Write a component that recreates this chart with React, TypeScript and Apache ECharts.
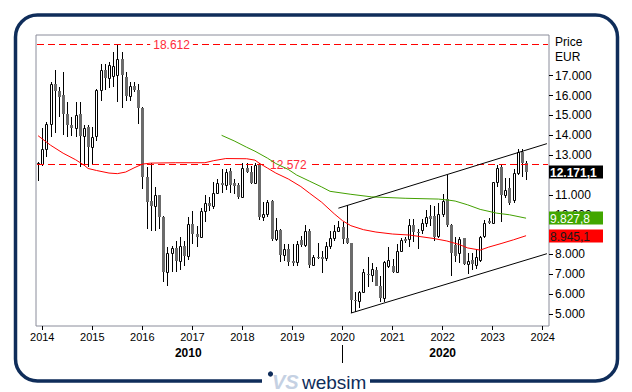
import React, { useEffect, useRef } from 'react';
import * as echarts from 'echarts';

// ---------- categories (monthly, Dec 2013 .. Feb 2024) ----------
const START_YEAR = 2013;
const START_MONTH = 12;
const N_CATS = 123;
const categories: string[] = [];
for (let i = 0; i < N_CATS; i++) {
  const m = START_MONTH - 1 + i;
  const y = START_YEAR + Math.floor(m / 12);
  const mm = (m % 12) + 1;
  categories.push(`${y}-${String(mm).padStart(2, '0')}`);
}

// ---------- monthly OHLC (thousand EUR), Dec 2013 .. Sep 2023 ----------
const open = [
  12.55, 12.55, 13.3, 14.55, 16.6, 16.25, 16.05, 15.05, 14.5, 14.35, 15.05, 13.95, 14.4, 13.4, 13.95, 16.3, 17.3, 16.9, 17.0, 17.03,
  17.84, 16.95, 16.0, 16.5, 16.3, 15.4, 11.9, 10.7, 10.45, 11.0, 9.9, 7.1, 8.05, 8.35, 7.65, 8.45, 7.9, 9.55, 9.05, 8.9,
  10.2, 10.6, 10.45, 11.1, 11.6, 11.5, 12.2, 11.6, 11.5, 10.9, 12.35, 12.15, 11.6, 12.5, 9.9, 10.05, 10.7, 8.8, 9.25, 7.95,
  8.3, 7.65, 7.6, 8.75, 8.5, 9.2, 7.45, 7.85, 7.85, 7.8, 8.45, 8.85, 9.2, 9.4, 8.85, 8.6, 5.7, 5.65, 6.1, 7.0,
  6.95, 7.2, 6.4, 5.8, 7.4, 7.4, 7.1, 8.2, 8.8, 8.8, 9.5, 9.15, 9.25, 9.6, 9.95, 9.95, 8.95, 10.05, 10.8, 9.5,
  8.5, 8.05, 8.85, 7.5, 7.7, 7.45, 7.7, 8.95, 9.7, 9.6, 11.65, 12.4, 11.0, 11.35, 10.75, 12.1, 13.15, 12.6,
];
const close = [
  12.6, 13.3, 14.55, 16.6, 16.25, 15.95, 15.05, 14.5, 14.35, 15.0, 13.95, 14.35, 13.4, 13.9, 16.3, 17.3, 16.9, 17.55, 17.5, 17.84,
  17.03, 16.0, 16.5, 16.3, 15.4, 11.9, 10.65, 10.45, 11.0, 9.9, 7.1, 8.05, 8.35, 7.65, 8.45, 7.9, 9.55, 9.05, 8.9, 10.2,
  10.6, 10.45, 11.1, 11.6, 11.5, 12.15, 11.5, 11.45, 10.9, 12.35, 12.15, 11.6, 12.5, 9.9, 10.05, 10.65, 8.8, 9.25, 7.95, 8.3,
  7.6, 7.55, 8.55, 8.5, 9.2, 7.45, 7.85, 7.8, 7.78, 8.45, 8.85, 9.2, 9.4, 8.8, 8.6, 5.7, 5.65, 6.1, 7.1, 6.95,
  7.25, 6.4, 5.8, 7.6, 7.7, 7.1, 8.2, 8.75, 8.7, 9.5, 9.15, 9.1, 9.6, 9.9, 9.8, 8.9, 10.05, 10.7, 9.5, 8.1,
  7.9, 8.8, 7.5, 7.65, 7.5, 7.85, 8.9, 9.6, 9.6, 11.65, 12.35, 11.0, 11.25, 10.6, 12.1, 13.15, 12.6, 12.1711,
];
const low = [
  11.7, 12.45, 12.9, 13.9, 14.1, 14.9, 14.0, 13.9, 13.95, 13.9, 12.4, 12.45, 12.4, 12.5, 13.7, 15.75, 16.3, 16.4, 16.45, 15.7,
  15.4, 15.75, 15.75, 16.2, 14.55, 11.3, 9.3, 9.2, 9.2, 9.3, 6.6, 6.4, 7.1, 7.1, 7.2, 7.4, 7.7, 8.55, 8.4, 8.85,
  9.65, 10.2, 10.3, 11.05, 11.1, 11.25, 11.1, 11.05, 10.8, 10.9, 12.1, 11.55, 11.6, 9.75, 9.7, 9.9, 8.7, 8.7, 7.6, 7.65,
  7.4, 7.4, 7.4, 8.4, 8.4, 7.3, 7.4, 7.75, 7.05, 7.65, 8.3, 8.7, 9.15, 8.55, 8.55, 5.05, 5.1, 5.3, 6.05, 6.35,
  6.6, 6.4, 5.6, 5.6, 7.3, 7.05, 7.05, 8.15, 8.6, 8.4, 8.65, 8.3, 9.05, 9.4, 9.45, 8.7, 8.85, 9.9, 9.4, 6.9,
  7.6, 7.55, 7.45, 7.0, 7.2, 7.25, 7.6, 8.85, 9.55, 9.55, 11.4, 9.65, 10.85, 10.5, 10.6, 12.0, 11.9, 11.75,
];
const high = [
  12.65, 14.35, 14.65, 16.7, 17.3, 16.45, 17.2, 15.7, 14.9, 15.7, 15.7, 14.5, 14.5, 14.4, 16.35, 17.6, 17.6, 17.7, 18.2, 18.612,
  18.2, 17.2, 16.7, 16.7, 16.6, 15.45, 12.4, 12.6, 11.4, 11.0, 9.95, 8.4, 8.45, 8.7, 8.9, 8.7, 9.9, 10.2, 9.45, 10.35,
  11.0, 10.9, 11.65, 11.8, 12.3, 12.3, 12.35, 11.8, 11.6, 12.6, 12.6, 12.45, 12.6, 12.6, 10.65, 10.75, 10.75, 9.85, 9.3, 8.55,
  8.55, 8.55, 8.7, 8.95, 9.5, 9.3, 7.95, 8.6, 8.2, 8.65, 9.2, 9.5, 9.7, 9.65, 10.5, 8.6, 6.1, 6.15, 7.25, 7.85,
  7.55, 7.35, 6.9, 7.65, 8.4, 7.75, 8.55, 8.85, 8.9, 9.8, 9.8, 9.3, 9.8, 10.25, 10.5, 10.45, 10.6, 11.05, 12.0, 9.55,
  8.9, 8.9, 8.85, 8.05, 8.05, 8.3, 8.95, 9.75, 9.85, 11.65, 12.5, 12.5, 11.85, 11.85, 12.3, 13.3, 13.3, 12.7,
];

// ---------- moving averages (sampled points) ----------
const redMA: [string, number][] = [
  ['2013-12', 13.98], ['2014-03', 13.5], ['2014-06', 13.1], ['2014-09', 12.77], ['2014-11', 12.5], ['2014-12', 12.33],
  ['2015-02', 12.23], ['2015-05', 12.1], ['2015-07', 12.07], ['2015-09', 12.15], ['2015-11', 12.36], ['2016-01', 12.55],
  ['2016-03', 12.6], ['2016-09', 12.62], ['2017-04', 12.62], ['2017-06', 12.72], ['2017-09', 12.83], ['2018-02', 12.82],
  ['2018-04', 12.75], ['2018-05', 12.6], ['2018-07', 12.35], ['2018-09', 12.1], ['2018-12', 11.8], ['2019-03', 11.42],
  ['2019-05', 11.1], ['2019-08', 10.63], ['2019-11', 10.05], ['2020-01', 9.7], ['2020-03', 9.45], ['2020-06', 9.25],
  ['2020-09', 9.13], ['2021-01', 9.03], ['2021-05', 8.98], ['2021-11', 8.8], ['2022-02', 8.68], ['2022-05', 8.5],
  ['2022-07', 8.33], ['2022-10', 8.22], ['2022-12', 8.37], ['2023-03', 8.55], ['2023-06', 8.74], ['2023-09', 8.9451],
];
const greenMA: [string, number][] = [
  ['2017-08', 14.0], ['2017-11', 13.72], ['2018-02', 13.4], ['2018-04', 13.2], ['2018-07', 12.85], ['2018-09', 12.58],
  ['2018-12', 12.28], ['2019-02', 12.0], ['2019-05', 11.7], ['2019-08', 11.4], ['2019-10', 11.18], ['2020-03', 11.03],
  ['2020-08', 10.9], ['2021-04', 10.83], ['2021-12', 10.79], ['2022-03', 10.72], ['2022-04', 10.69], ['2022-07', 10.5],
  ['2022-10', 10.27], ['2023-02', 10.08], ['2023-05', 10.0], ['2023-09', 9.8278],
];

// ---------- reference levels and channel ----------
const maxLevel = 18.612;
const midLevel = 12.572;
const upperChannel: [string, number][] = [['2019-12', 10.33], ['2024-02', 13.58]];
const lowerChannel: [string, number][] = [['2020-03', 5.05], ['2024-02', 8.04]];
const levelLabelAt = { max: '2016-08', mid: '2018-12' };

// ---------- axis labels ----------
const yTicks = [5, 6, 7, 8, 9, 10, 11, 12, 13, 14, 15, 16, 17];
const yLabelValues = [5, 6, 7, 8, 10, 11, 13, 14, 15, 16, 17]; // 9.000 and 12.000 sit under the value boxes
const decadeLabels: Record<string, string> = { '2016-12': '2010', '2022-01': '2020' };
const decadeSeparator = '2020-01';

const NAVY = '#0f2d5a';
const FONT = '"Liberation Sans", Arial, sans-serif';
const GRID = { left: 36, right: 83, top: 35, bottom: 66 };

const fmtEU = (v: number) => {
  const x = Math.round(v * 10000) / 10;
  const ip = Math.floor(x);
  const dp = Math.round((x - ip) * 10);
  return ip.toString().replace(/\B(?=(\d{3})+(?!\d))/g, '.') + ',' + dp;
};

export default function App() {
  const ref = useRef<HTMLDivElement>(null);

  useEffect(() => {
    if (!ref.current) return;
    const chart = echarts.init(ref.current, undefined, { renderer: 'svg' });
    const candleData = open.map((o, i) => [i, o, close[i], low[i], high[i]]);
    const channelSeries = (pts: [string, number][]) => ({
      type: 'line',
      xAxisIndex: 0,
      data: pts,
      symbol: 'none',
      silent: true,
      lineStyle: { color: '#000', width: 1, type: 'solid' },
      z: 3,
    });

    chart.setOption({
      animation: false,
      textStyle: { fontFamily: FONT },
      grid: { ...GRID, show: true, borderColor: '#8a8c9a', borderWidth: 1 },
      xAxis: [
        {
          type: 'category',
          data: categories,
          boundaryGap: true,
          axisLine: { show: false },
          axisTick: { show: true, alignWithLabel: true, length: 4, interval: (_i: number, v: string) => v.endsWith('-01'), lineStyle: { color: '#000' } },
          axisLabel: { interval: (_i: number, v: string) => v.endsWith('-01'), formatter: (v: string) => v.slice(0, 4), color: '#000', fontSize: 11, margin: 5, fontFamily: FONT },
          splitLine: { show: false },
        },
        {
          type: 'category',
          data: categories,
          position: 'bottom',
          offset: 19,
          boundaryGap: true,
          axisLine: { show: false },
          axisTick: { show: true, alignWithLabel: true, length: 18, interval: (_i: number, v: string) => v === decadeSeparator, lineStyle: { color: '#000' } },
          axisLabel: { interval: (_i: number, v: string) => !!decadeLabels[v], formatter: (v: string) => decadeLabels[v] || '', color: '#000', fontSize: 12, fontWeight: 'bold', margin: 2, fontFamily: FONT },
          splitLine: { show: false },
        },
      ],
      yAxis: {
        type: 'value',
        position: 'right',
        min: 4.4,
        max: 19.05,
        axisLine: { show: false },
        splitLine: { show: false },
        axisTick: { show: true, length: 4, customValues: yTicks, lineStyle: { color: '#000' } },
        axisLabel: { customValues: yLabelValues, formatter: (v: number) => v.toFixed(3), color: '#000', fontSize: 12, margin: 6, fontFamily: FONT },
      },
      series: [
        {
          type: 'custom',
          name: 'Price',
          xAxisIndex: 0,
          data: candleData,
          encode: { x: 0, y: [1, 2, 3, 4] },
          renderItem: (_p: any, api: any) => {
            const i = api.value(0);
            const o = api.value(1), c = api.value(2), l = api.value(3), h = api.value(4);
            const pO = api.coord([i, o]);
            const pC = api.coord([i, c]);
            const pL = api.coord([i, l]);
            const pH = api.coord([i, h]);
            const cx = Math.round(pO[0]) + 0.5;
            const top = Math.round(Math.min(pO[1], pC[1]));
            const bot = Math.round(Math.max(pO[1], pC[1]));
            const bull = c >= o;
            const body = bull
              ? { type: 'rect', shape: { x: cx - 1, y: top + 0.5, width: 2, height: Math.max(1, bot - top) }, style: { fill: '#fff', stroke: '#000', lineWidth: 1 } }
              : { type: 'rect', shape: { x: cx - 1.5, y: top, width: 3, height: Math.max(1, bot - top) }, style: { fill: '#6b6b6b' } };
            return {
              type: 'group',
              children: [
                { type: 'line', shape: { x1: cx, y1: Math.round(pH[1]), x2: cx, y2: Math.round(pL[1]) }, style: { stroke: '#000', lineWidth: 1 } },
                body,
              ],
            };
          },
          z: 2,
        },
        channelSeries(upperChannel),
        channelSeries(lowerChannel),
        {
          type: 'line',
          name: 'MA short',
          xAxisIndex: 0,
          data: redMA,
          symbol: 'none',
          lineStyle: { color: '#ff0000', width: 1 },
          z: 4,
        },
        {
          type: 'line',
          name: 'MA long',
          xAxisIndex: 0,
          data: greenMA,
          symbol: 'none',
          lineStyle: { color: '#43a000', width: 1 },
          z: 5,
        },
      ],
    });

    const gridLeft = GRID.left;
    const gridRight = 632 - GRID.right;
    const lastClose = close[close.length - 1];
    const lastGreen = greenMA[greenMA.length - 1][1];
    const lastRed = redMA[redMA.length - 1][1];
    const yOf = (v: number) => chart.convertToPixel({ yAxisIndex: 0 }, v) as number;
    const xOf = (cat: string) => chart.convertToPixel({ xAxisIndex: 0 }, categories.indexOf(cat)) as number;
    const box = (v: number, fill: string, color: string, bold: boolean) => [
      { type: 'rect', shape: { x: gridRight, y: Math.round(yOf(v)) - 6.5, width: 54, height: 13 }, style: { fill }, z: 10 },
      { type: 'text', x: gridRight + 1, y: Math.round(yOf(v)) + 0.5, style: { text: fmtEU(v), fill: color, font: `${bold ? 'bold ' : ''}12px ${FONT}`, verticalAlign: 'middle', align: 'left' }, z: 11 },
    ];
    const level = (v: number, labelAt: string) => {
      const y = Math.round(yOf(v)) + 0.5;
      return [
        { type: 'line', shape: { x1: gridLeft + 1, y1: y, x2: gridRight - 1, y2: y }, style: { stroke: '#ff0000', lineWidth: 1, lineDash: [7, 4] }, z: 3 },
        {
          type: 'text', x: xOf(labelAt), y,
          style: { text: v.toFixed(3), fill: '#ff2a3a', font: `12px ${FONT}`, align: 'center', verticalAlign: 'middle', backgroundColor: '#fff', padding: [1, 3] },
          z: 4,
        },
      ];
    };

    chart.setOption({
      graphic: [
        { type: 'rect', shape: { x: 15.5, y: 15, width: 602, height: 366, r: 22 }, style: { fill: 'none', stroke: NAVY, lineWidth: 3.5 }, z: 0 },
        { type: 'rect', shape: { x: 262, y: 372, width: 108, height: 20 }, style: { fill: '#fff' }, z: 1 },
        { type: 'circle', shape: { cx: 270.5, cy: 374, r: 2.6 }, style: { fill: NAVY }, z: 2 },
        { type: 'text', x: 272, y: 382, style: { text: 'VS', fill: '#c5d1e3', font: `italic bold 20px ${FONT}`, verticalAlign: 'middle' }, z: 2 },
        { type: 'text', x: 302, y: 382, style: { text: 'websim', fill: NAVY, font: `19px ${FONT}`, verticalAlign: 'middle' }, z: 2 },
        { type: 'text', x: 555, y: 42, style: { text: 'Price', fill: '#000', font: `12px ${FONT}`, verticalAlign: 'middle' } },
        { type: 'text', x: 555, y: 57, style: { text: 'EUR', fill: '#000', font: `12px ${FONT}`, verticalAlign: 'middle' } },
        ...level(maxLevel, levelLabelAt.max),
        ...level(midLevel, levelLabelAt.mid),
        ...box(lastClose, '#000', '#fff', true),
        ...box(lastGreen, '#41a600', '#fff', false),
        ...box(lastRed, '#ff0000', '#1a1a1a', false),
      ],
    });

    return () => chart.dispose();
  }, []);

  return (
    <div
      ref={ref}
      style={{ position: 'absolute', left: 0, top: 0, width: 632, height: 392, background: '#fff' }}
    />
  );
}
